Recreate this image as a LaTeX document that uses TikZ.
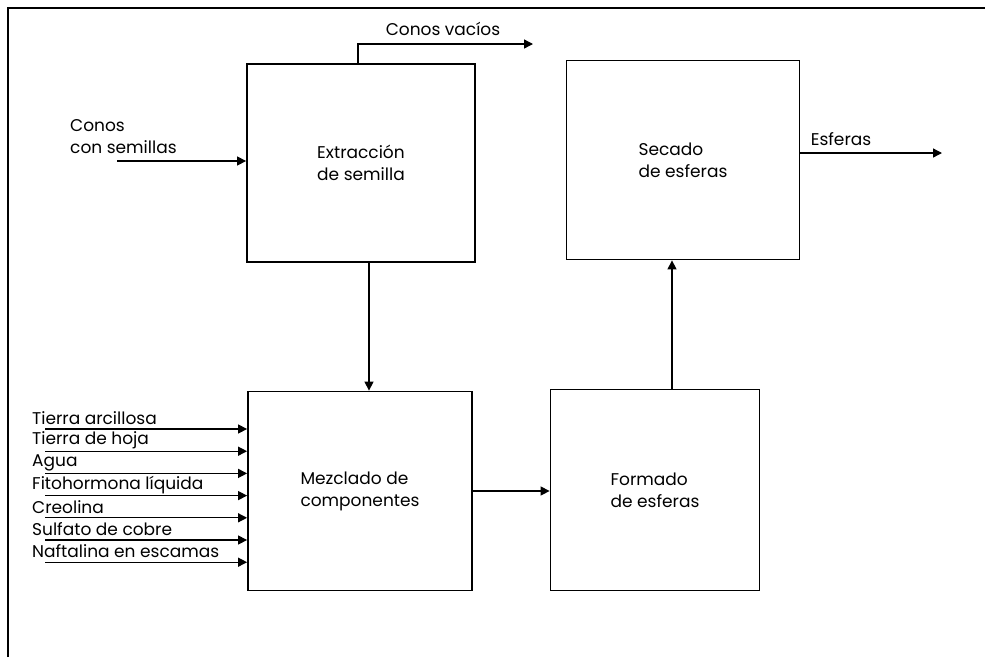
\documentclass[tikz,border=0pt]{standalone}
\usepackage{fontspec}
\setmainfont{Poppins}
\usepackage{tikz}
\usetikzlibrary{arrows.meta}

\tikzset{
  proc/.style = {draw = black, line width = 1.8pt, align = left, font = \fontsize{17}{22}\selectfont},
  arr/.style = {line width = 1.3pt, -{Triangle[length=9pt,width=9pt]}},
  lbl/.style = {inner sep = 0pt, align = left, font = \fontsize{17}{22}\selectfont}
}

\begin{document}
\begin{tikzpicture}[x=1pt, y=-1pt]
	\useasboundingbox (0,0) rectangle (985,657);
	% marco
	\draw[line width = 2.2pt] (8,657) -- (8,8) -- (985,8);
	% bloques
	\node[proc, minimum width = 228pt, minimum height = 198pt] (extraccion) at (361,163) {Extracción\\de semilla};
	\node[proc, minimum width = 233pt, minimum height = 199pt] (secado) at (683,160) {Secado\\de esferas};
	\node[proc, minimum width = 224pt, minimum height = 199pt] (mezclado) at (360,491) {Mezclado de\\componentes};
	\node[proc, minimum width = 209pt, minimum height = 201pt] (formado) at (655,490) {Formado\\de esferas};
	% entrada de conos
	\node[lbl, anchor = west] (conos) at (70,137) {Conos\\con semillas};
	\coordinate (conosin) at (117,161);
	\draw[arr] (conosin) -- (conosin -| extraccion.west);
	% conos vacios
	\coordinate (vacbend) at (358,44);
	\coordinate (vacout) at (533,44);
	\node[lbl] (vacios) at (443,29) {Conos vacíos};
	\draw[arr] (vacbend |- extraccion.north) -- (vacbend) -- (vacout);
	% componentes de la mezcla
	\foreach \txt [count=\i] in {Tierra arcillosa, Tierra de hoja, Agua, Fitohormona líquida, Creolina, Sulfato de cobre, Naftalina en escamas}
	{
		\node[lbl, anchor = west] (in\i) at (32,{418+22.2*(\i-1)}) {\txt};
		\coordinate (s\i) at (45,{429+22.2*(\i-1)});
		\draw[arr] (s\i) -- (s\i -| mezclado.west);
	}
	% flujo entre bloques
	\draw[arr] ([xshift=8pt]extraccion.south) -- ([xshift=8pt]extraccion.south |- mezclado.north);
	\draw[arr] (mezclado.east) -- (mezclado.east -| formado.west);
	\draw[arr] ([xshift=17pt]formado.north) -- ([xshift=17pt]formado.north |- secado.south);
	% salida
	\coordinate (esf) at (942,153);
	\node[lbl] (esferas) at (841,139) {Esferas};
	\draw[arr] (esf -| secado.east) -- (esf);
\end{tikzpicture}
\end{document}
